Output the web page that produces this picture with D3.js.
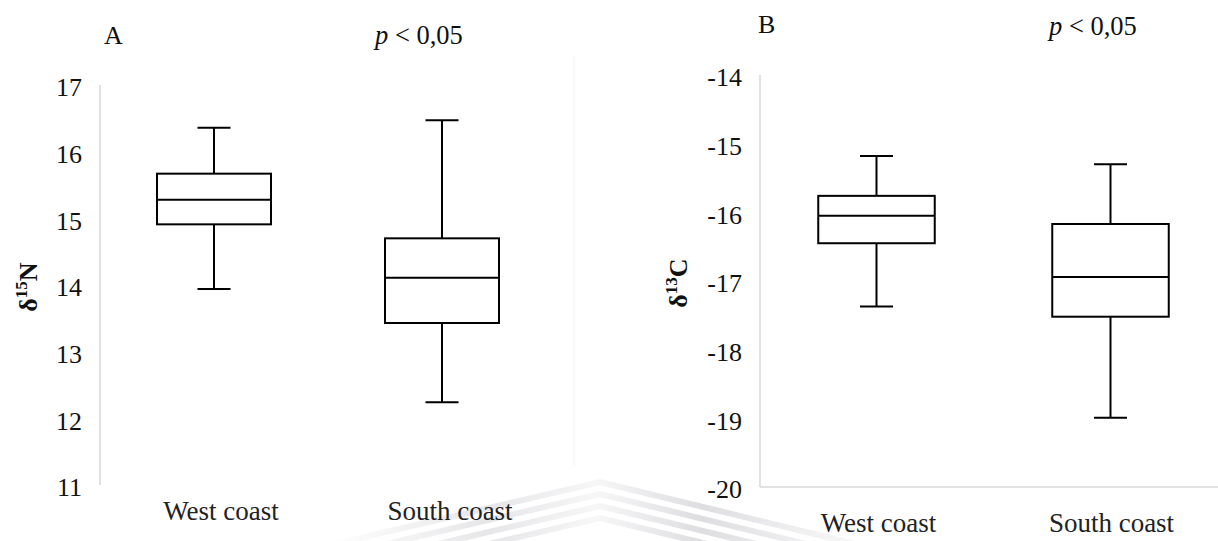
<!DOCTYPE html>
<html>
<head>
<meta charset="utf-8">
<script src="https://cdn.jsdelivr.net/npm/d3@7"></script>
<style>
  body { margin: 0; background: #fff; }
  svg text { font-family: "Liberation Serif", "Times New Roman", serif; }
</style>
</head>
<body>
<svg id="chart" width="1218" height="541"></svg>
<script>
// Categories shared by both panels.
const categories = ["West coast", "South coast"];

// Panel A: delta 15N box statistics.
const n15Min = [13.94, 12.24];
const n15Q1 = [14.91, 13.43];
const n15Median = [15.28, 14.11];
const n15Q3 = [15.67, 14.70];
const n15Max = [16.36, 16.47];
const n15Ticks = [11, 12, 13, 14, 15, 16, 17];

// Panel B: delta 13C box statistics.
const c13Min = [-17.37, -18.99];
const c13Q1 = [-16.45, -17.52];
const c13Median = [-16.05, -16.94];
const c13Q3 = [-15.76, -16.17];
const c13Max = [-15.18, -15.30];
const c13Ticks = [-20, -19, -18, -17, -16, -15, -14];

const FONT = "'Liberation Serif', 'Times New Roman', serif";
const svg = d3.select("#chart");

// Faint watermark chevron stripes along the bottom.
const grad = svg.append("defs").append("linearGradient").attr("id", "wm").attr("x1", "0").attr("x2", "1");
grad.append("stop").attr("offset", "0").attr("stop-color", "#c8c8ce").attr("stop-opacity", 0);
grad.append("stop").attr("offset", "0.3").attr("stop-color", "#c8c8ce").attr("stop-opacity", 0.45);
grad.append("stop").attr("offset", "0.5").attr("stop-color", "#c8c8ce").attr("stop-opacity", 0.15);
grad.append("stop").attr("offset", "0.7").attr("stop-color", "#c8c8ce").attr("stop-opacity", 0.6);
grad.append("stop").attr("offset", "1").attr("stop-color", "#c8c8ce").attr("stop-opacity", 0.1);
const wm = svg.append("g");
[0, 1, 2, 3].forEach((i) => {
  const off = i * 12;
  wm.append("path")
    .attr("d", d3.line()([[330, 545 + off], [600, 482 + off], [860, 545 + off]]))
    .attr("fill", "none")
    .attr("stroke", "url(#wm)")
    .attr("stroke-width", 6);
});

// Faint chart-area border on panel A's right side.
svg.append("line")
  .attr("x1", 574).attr("x2", 574).attr("y1", 55).attr("y2", 466)
  .attr("stroke", "#f3f3f3").attr("stroke-width", 1);

/**
 * Draws one box-plot panel.
 */
function drawPanel(opts) {
  const x = d3.scaleBand().domain(categories).range(opts.xRange).paddingInner(0).paddingOuter(0);
  const y = d3.scaleLinear().domain(d3.extent(opts.ticks)).range(opts.yRange);
  const g = svg.append("g");

  // Vertical axis line.
  g.append("line")
    .attr("x1", opts.xRange[0]).attr("x2", opts.xRange[0])
    .attr("y1", opts.yRange[1]).attr("y2", opts.yRange[0])
    .attr("stroke", "#d9d9d9").attr("stroke-width", 1.5);

  // Horizontal axis line (panel B only).
  if (opts.baseline) {
    g.append("line")
      .attr("x1", opts.xRange[0]).attr("x2", 1218)
      .attr("y1", opts.yRange[0]).attr("y2", opts.yRange[0])
      .attr("stroke", "#d9d9d9").attr("stroke-width", 1.5);
  }

  // Tick labels.
  const axis = g.append("g")
    .attr("transform", `translate(${opts.xRange[0]},0)`)
    .call(d3.axisLeft(y).tickValues(opts.ticks).tickSize(0).tickPadding(opts.tickPad));
  axis.select(".domain").remove();
  axis.attr("font-family", FONT).attr("font-size", 26);
  axis.selectAll("text")
    .attr("dy", "0.42em")
    .attr("fill", "#111")
    .text((d) => (d < 0 ? "-" + Math.abs(d) : d));

  // Boxes.
  const boxW = x.bandwidth() * 0.5;
  const capW = 33;
  categories.forEach((c, i) => {
    const cx = x(c) + x.bandwidth() / 2 + opts.boxShift[i];
    const bg = g.append("g").attr("stroke", "#000").attr("stroke-width", 2).attr("fill", "none");
    // Whiskers.
    bg.append("line").attr("x1", cx).attr("x2", cx).attr("y1", y(opts.max[i])).attr("y2", y(opts.q3[i]));
    bg.append("line").attr("x1", cx).attr("x2", cx).attr("y1", y(opts.q1[i])).attr("y2", y(opts.min[i]));
    bg.append("line").attr("x1", cx - capW / 2).attr("x2", cx + capW / 2).attr("y1", y(opts.max[i])).attr("y2", y(opts.max[i]));
    bg.append("line").attr("x1", cx - capW / 2).attr("x2", cx + capW / 2).attr("y1", y(opts.min[i])).attr("y2", y(opts.min[i]));
    // Box and median.
    bg.append("rect")
      .attr("x", cx - boxW / 2).attr("width", boxW)
      .attr("y", y(opts.q3[i])).attr("height", y(opts.q1[i]) - y(opts.q3[i]))
      .attr("fill", "#fff");
    bg.append("line")
      .attr("x1", cx - boxW / 2).attr("x2", cx + boxW / 2)
      .attr("y1", y(opts.median[i])).attr("y2", y(opts.median[i]));

    // Category label.
    g.append("text")
      .attr("x", x(c) + x.bandwidth() / 2 + opts.labelShift[i])
      .attr("y", opts.labelY)
      .attr("text-anchor", "middle")
      .attr("fill", "#222")
      .attr("font-family", FONT)
      .attr("font-size", 27)
      .text(c);
  });

  // Rotated y-axis title with superscript.
  const t = g.append("text")
    .attr("transform", `translate(${opts.titlePos[0]},${opts.titlePos[1]}) rotate(-90)`)
    .attr("text-anchor", "middle")
    .attr("font-weight", "bold")
    .attr("fill", "#111")
    .attr("font-family", FONT)
    .attr("font-size", 26);
  t.append("tspan").text("δ");
  t.append("tspan").attr("dy", -10).attr("font-size", 17).text(opts.isotope[0]);
  t.append("tspan").attr("dy", 10).text(opts.isotope[1]);

  // Panel letter and p-value.
  g.append("text")
    .attr("x", opts.letterPos[0]).attr("y", opts.letterPos[1])
    .attr("fill", "#111").attr("font-family", FONT).attr("font-size", 26)
    .text(opts.letter);
  const p = g.append("text")
    .attr("x", opts.pPos[0]).attr("y", opts.pPos[1])
    .attr("fill", "#111").attr("font-family", FONT).attr("font-size", 26.5);
  p.append("tspan").attr("font-style", "italic").text("p");
  p.append("tspan").text(" < 0,05");
}

drawPanel({
  xRange: [100, 556],
  yRange: [485, 85],
  ticks: n15Ticks,
  min: n15Min, q1: n15Q1, median: n15Median, q3: n15Q3, max: n15Max,
  tickPad: 18,
  boxShift: [0, 0],
  labelShift: [7, 8],
  labelY: 520,
  baseline: false,
  titlePos: [37, 287],
  isotope: ["15", "N"],
  letter: "A",
  letterPos: [104, 44],
  pPos: [375, 44]
});

drawPanel({
  xRange: [760, 1226],
  yRange: [487, 75],
  ticks: c13Ticks,
  min: c13Min, q1: c13Q1, median: c13Median, q3: c13Q3, max: c13Max,
  tickPad: 18,
  boxShift: [0, 1],
  labelShift: [2, 2],
  labelY: 532,
  baseline: true,
  titlePos: [687, 283],
  isotope: ["13", "C"],
  letter: "B",
  letterPos: [758, 33],
  pPos: [1049, 35]
});
</script>
</body>
</html>
